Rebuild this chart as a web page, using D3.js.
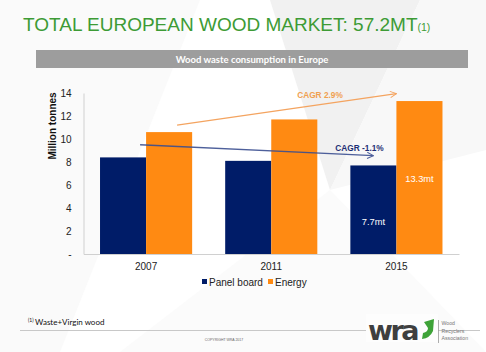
<!DOCTYPE html>
<html><head><meta charset="utf-8">
<script src="https://cdn.jsdelivr.net/npm/d3@7"></script>
<style>html,body{margin:0;padding:0;background:#fff;}svg{display:block;}</style>
</head><body>
<svg id="c" width="486" height="352"></svg>
<script>
const categories = ["2007", "2011", "2015"];
const seriesNames = ["Panel board", "Energy"];
const panelBoard = [8.4, 8.1, 7.7];
const energy = [10.6, 11.7, 13.3];
const yTicks = [0, 2, 4, 6, 8, 10, 12, 14];
const yTickLabels = ["-", "2", "4", "6", "8", "10", "12", "14"];
const barLabels = [{cat: "2015", series: "Panel board", text: "7.7mt"}, {cat: "2015", series: "Energy", text: "13.3mt"}];
const cagr = [{series: "Energy", text: "CAGR 2.9%", from: ["2007", 11.2], to: ["2015", 13.95]},
              {series: "Panel board", text: "CAGR -1.1%", from: ["2007", 9.5], to: ["2015", 8.55]}];

const colors = {"Panel board": "#001c68", "Energy": "#ff8a12"};
const svg = d3.select("#c");

// faint background polygons
const bg = svg.append("g");
bg.append("polygon").attr("points", "0,0 200,0 60,352 0,352").attr("fill", "#fafafa");
bg.append("polygon").attr("points", "270,0 420,0 330,190").attr("fill", "#f1f1f1");
bg.append("polygon").attr("points", "330,190 420,0 486,0 486,150").attr("fill", "#f8f8f8");
bg.append("polygon").attr("points", "120,352 330,190 486,352").attr("fill", "#fbfbfb");

// Title
const title = svg.append("text").attr("x", 23).attr("y", 31)
  .attr("font-family", "Liberation Sans, Arial, sans-serif").attr("font-size", 19).attr("fill", "#3d9b35");
title.append("tspan").text("TOTAL EUROPEAN WOOD MARKET: 57.2MT");
title.append("tspan").attr("font-size", 10.5).text("(1)");

// banner
svg.append("rect").attr("x", 36).attr("y", 50).attr("width", 432).attr("height", 18).attr("fill", "#9d9d9d");
svg.append("text").attr("x", 252).attr("y", 62.5).attr("text-anchor", "middle")
  .attr("font-family", "Lato, Open Sans, sans-serif").attr("font-weight", "bold").attr("font-size", 9.5)
  .attr("fill", "#fff").text("Wood waste consumption in Europe");

const x0 = d3.scaleBand().domain(categories).range([83.5, 459]).paddingInner(0.264).paddingOuter(0.132);
const x1 = d3.scaleBand().domain(seriesNames).range([0, x0.bandwidth()]);
const y = d3.scaleLinear().domain([0, 14]).range([254, 93]);

const data = categories.map((c, i) => ({cat: c, vals: [{s: "Panel board", v: panelBoard[i]}, {s: "Energy", v: energy[i]}]}));

// axes
const yAxis = d3.axisLeft(y).tickValues(yTicks).tickFormat((d, i) => yTickLabels[i]).tickSize(0).tickPadding(12);
const ya = svg.append("g").attr("transform", "translate(83.5,0)").call(yAxis);
ya.select(".domain").attr("stroke", "#d0d0d0");
ya.selectAll("text").attr("font-family", "Liberation Sans, Arial, sans-serif").attr("font-size", 10).attr("fill", "#222");

svg.append("text").attr("transform", "translate(55.5,126) rotate(-90)").attr("text-anchor", "middle")
  .attr("font-family", "Liberation Sans, Arial, sans-serif").attr("font-weight", "bold").attr("font-size", 10)
  .attr("fill", "#111").text("Million tonnes");

// bars
const g = svg.append("g");
g.selectAll("g").data(data).join("g").attr("transform", d => `translate(${x0(d.cat)},0)`)
  .selectAll("rect").data(d => d.vals).join("rect")
  .attr("x", d => x1(d.s)).attr("width", x1.bandwidth())
  .attr("y", d => y(d.v)).attr("height", d => y(0) - y(d.v))
  .attr("fill", d => colors[d.s]);

const xAxis = d3.axisBottom(x0).tickSize(0).tickPadding(9);
const xa = svg.append("g").attr("transform", "translate(0,254)").call(xAxis);
xa.select(".domain").attr("stroke", "#d0d0d0");
xa.selectAll("text").attr("font-family", "Liberation Sans, Arial, sans-serif").attr("font-size", 10).attr("fill", "#222");

// bar labels
barLabels.forEach(b => {
  const idx = categories.indexOf(b.cat);
  const v = b.series === "Panel board" ? panelBoard[idx] : energy[idx];
  svg.append("text").attr("x", x0(b.cat) + x1(b.series) + x1.bandwidth() / 2)
    .attr("y", b.series === "Panel board" ? y(v * 0.33) : y(v * 0.47))
    .attr("text-anchor", "middle").attr("font-family", "Liberation Sans, Arial, sans-serif")
    .attr("font-size", 9.3).attr("fill", "#fff").text(b.text);
});

// CAGR arrows
const defs = svg.append("defs");
[["ao", "#f4a460"], ["an", "#3b4f91"]].forEach(([id, c]) => {
  defs.append("marker").attr("id", id).attr("viewBox", "0 0 10 10").attr("refX", 9).attr("refY", 5)
    .attr("markerWidth", 6).attr("markerHeight", 6).attr("orient", "auto")
    .append("path").attr("d", "M1,1 L9,5 L1,9").attr("fill", "none").attr("stroke", c).attr("stroke-width", 1.3);
});
// orange
svg.append("line").attr("x1", x0("2007") + x1("Energy") + 31).attr("y1", y(cagr[0].from[1]))
  .attr("x2", x0("2015") + x1.bandwidth()).attr("y2", y(cagr[0].to[1]))
  .attr("stroke", "#f4a460").attr("stroke-width", 1.3).attr("marker-end", "url(#ao)");
svg.append("text").attr("x", 320).attr("y", 98).attr("text-anchor", "middle")
  .attr("font-family", "Liberation Sans, Arial, sans-serif").attr("font-weight", "bold").attr("font-size", 8.3)
  .attr("fill", "#f0a050").text(cagr[0].text);
// navy
svg.append("line").attr("x1", x0("2007") + x1("Energy") - 6).attr("y1", y(cagr[1].from[1]))
  .attr("x2", x0("2015") + x1.bandwidth() / 2).attr("y2", y(cagr[1].to[1]))
  .attr("stroke", "#3b4f91").attr("stroke-width", 1.3).attr("opacity", 0.9).attr("marker-end", "url(#an)");
svg.append("text").attr("x", 359.5).attr("y", 151).attr("text-anchor", "middle")
  .attr("font-family", "Liberation Sans, Arial, sans-serif").attr("font-weight", "bold").attr("font-size", 8.3)
  .attr("fill", "#1d2f75").text(cagr[1].text);

// legend
const leg = svg.append("g").attr("font-family", "Liberation Sans, Arial, sans-serif").attr("font-size", 10).attr("fill", "#222");
const legPos = [202, 268];
seriesNames.forEach((s, i) => {
  leg.append("rect").attr("x", legPos[i]).attr("y", 279).attr("width", 5).attr("height", 5).attr("fill", colors[s]);
  leg.append("text").attr("x", legPos[i] + 7).attr("y", 285.5).text(s);
});

// footnote
const fn = svg.append("text").attr("x", 28).attr("y", 325).attr("font-family", "Lato, Open Sans, sans-serif")
  .attr("font-size", 8).attr("fill", "#111");
fn.append("tspan").attr("font-size", 5).attr("dy", -3).text("(1)");
fn.append("tspan").attr("dy", 3).attr("dx", 1.5).text("Waste+Virgin wood");
svg.append("line").attr("x1", 20).attr("x2", 480).attr("y1", 330.5).attr("y2", 330.5).attr("stroke", "#c8c8c8").attr("stroke-width", 1);
svg.append("text").attr("x", 224).attr("y", 341).attr("text-anchor", "middle").attr("font-family", "Liberation Sans, Arial, sans-serif")
  .attr("font-size", 3.5).attr("fill", "#666").text("COPYRIGHT WRA 2017");

// logo
svg.append("rect").attr("x", 366).attr("y", 314).attr("width", 72).attr("height", 28).attr("fill", "#fdfdfd");
svg.append("text").attr("x", 368).attr("y", 340).attr("font-family", "DejaVu Sans, sans-serif").attr("font-weight", "bold")
  .attr("font-size", 27).attr("letter-spacing", -2.5).attr("fill", "#3f3f3f").text("wra");
svg.append("path").attr("d", "M424,322 L434,319 L433,331 Q430,338 422,339 L423,333 Q428,332 428,328 Z").attr("fill", "#3ea338");
svg.append("line").attr("x1", 438.5).attr("x2", 438.5).attr("y1", 320).attr("y2", 343).attr("stroke", "#999").attr("stroke-width", 0.8);
const lt = svg.append("g").attr("font-family", "Liberation Sans, Arial, sans-serif").attr("font-size", 5.2).attr("fill", "#777");
["Wood", "Recyclers", "Association"].forEach((t, i) => lt.append("text").attr("x", 441.5).attr("y", 325 + i * 7.7).text(t));
</script>
</body></html>
